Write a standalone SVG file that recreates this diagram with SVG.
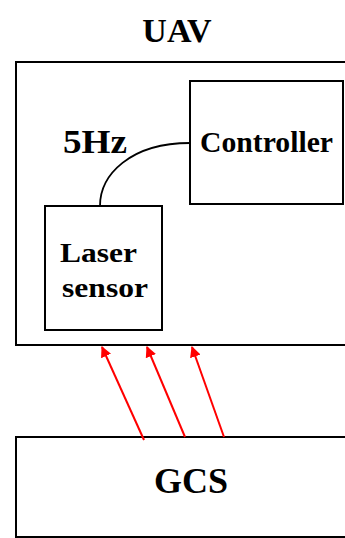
<svg xmlns="http://www.w3.org/2000/svg" width="345" height="538" viewBox="0 0 345 538">
<style>
.box{fill:#fff;stroke:#000;stroke-width:2}
.t{font-family:"Liberation Serif","Times New Roman",serif;font-weight:bold;fill:#000}
.arr{stroke:#f00;stroke-width:2;fill:none;marker-end:url(#ah)}
</style>
<defs>
<marker id="ah" viewBox="0 0 10 10" refX="9" refY="5" markerWidth="5.5" markerHeight="5.5" orient="auto" markerUnits="strokeWidth">
<path d="M0,0 L10,5 L0,10 Z" fill="#f00"/>
</marker>
</defs>
<rect width="345" height="538" fill="#fff"/>
<g id="uav">
<rect class="box" x="16" y="62" width="340" height="283"/>
<text class="t" x="177" y="42" font-size="34" text-anchor="middle">UAV</text>
<text class="t" x="63" y="153" font-size="33" textLength="64" lengthAdjust="spacingAndGlyphs">5Hz</text>
</g>
<g id="controller">
<rect class="box" x="190" y="81" width="153" height="123"/>
<text class="t" x="200" y="152" font-size="29" textLength="133" lengthAdjust="spacingAndGlyphs">Controller</text>
</g>
<g id="laser">
<rect class="box" x="45" y="206" width="117" height="124"/>
<text class="t" x="60" y="262" font-size="28" textLength="77" lengthAdjust="spacingAndGlyphs">Laser</text>
<text class="t" x="62" y="297" font-size="28" textLength="86" lengthAdjust="spacingAndGlyphs">sensor</text>
</g>
<g id="gcs">
<rect class="box" x="16" y="437" width="340" height="100"/>
<text class="t" x="191" y="493" font-size="36" text-anchor="middle">GCS</text>
</g>
<g id="connectors">
<path d="M190,143 C130,143 100,175 100,206" fill="none" stroke="#000" stroke-width="1.8"/>
<line class="arr" x1="144" y1="440" x2="102" y2="347"/>
<line class="arr" x1="185" y1="437" x2="147" y2="347"/>
<line class="arr" x1="224" y1="437" x2="192" y2="347"/>
</g>
</svg>
